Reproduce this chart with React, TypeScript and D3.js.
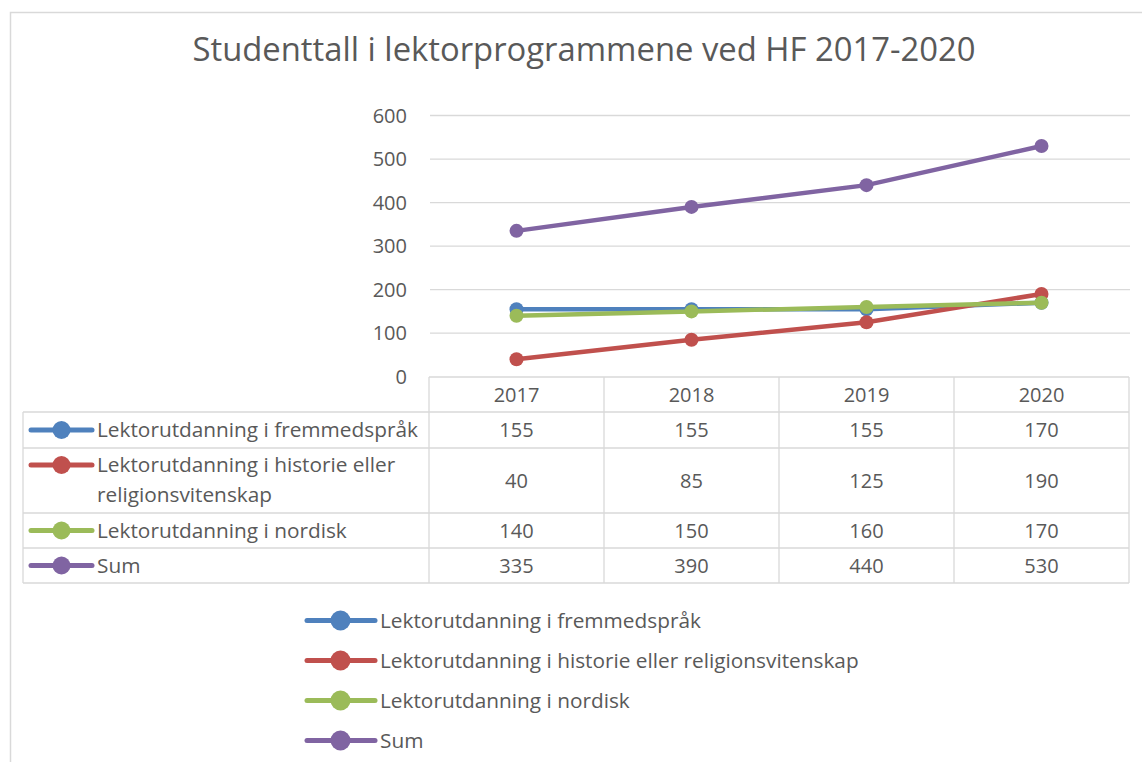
import React from "react";
import * as d3 from "d3";

const years = ["2017", "2018", "2019", "2020"];
const seriesNames = [
  "Lektorutdanning i fremmedspråk",
  "Lektorutdanning i historie eller religionsvitenskap",
  "Lektorutdanning i nordisk",
  "Sum",
];
const tableLabels = [
  ["Lektorutdanning i fremmedspråk"],
  ["Lektorutdanning i historie eller", "religionsvitenskap"],
  ["Lektorutdanning i nordisk"],
  ["Sum"],
];
const fremmedsprak = [155, 155, 155, 170];
const historie = [40, 85, 125, 190];
const nordisk = [140, 150, 160, 170];
const sum = [335, 390, 440, 530];
const seriesValues = [fremmedsprak, historie, nordisk, sum];
const colors = ["#4F81BD", "#C0504D", "#9BBB59", "#8064A2"];
const yTicks = [0, 100, 200, 300, 400, 500, 600];
const title = "Studenttall i lektorprogrammene ved HF 2017-2020";

const FONT = "'Open Sans', sans-serif";
const TXT = "#595959";
const GRID = "#d9d9d9";
const LABEL_SIZE = 20.8;
const NUM_SIZE = 20;

export default function App() {
  const x = d3.scaleBand<string>().domain(years).range([429, 1129]);
  const y = d3.scaleLinear().domain([0, 600]).range([376.7, 115.5]);
  const cx = (yr: string) => (x(yr) as number) + x.bandwidth() / 2;
  const line = d3
    .line<number>()
    .x((_, i) => cx(years[i]))
    .y((v) => y(v));

  const rowBounds = [412, 448, 513, 548, 583];
  const tableLeft = 23;
  const tableRight = 1129;

  return (
    <svg
      width={1142}
      height={762}
      style={{ position: "absolute", left: 0, top: 0, background: "#fff" }}
    >
      <rect x={0} y={0} width={1142} height={762} fill="#fff" />
      <path d="M10.5,770 V12.5 H1150" fill="none" stroke={GRID} strokeWidth={1.5} />
      <text
        x={584}
        y={61}
        textAnchor="middle"
        fontFamily={FONT}
        fontSize={32.8}
        fill={TXT}
      >
        {title}
      </text>
      {yTicks.map((t) => (
        <g key={t}>
          {t > 0 && (
            <line x1={430} x2={1130} y1={y(t)} y2={y(t)} stroke={GRID} strokeWidth={1.3} />
          )}
          <text
            x={407}
            y={y(t)}
            dy="0.35em"
            textAnchor="end"
            fontFamily={FONT}
            fontSize={NUM_SIZE}
            fill={TXT}
          >
            {t}
          </text>
        </g>
      ))}
      <g stroke={GRID} strokeWidth={1.3} fill="none">
        <line x1={429} x2={tableRight} y1={377} y2={377} />
        {rowBounds.map((b, i) => (
          <line key={i} x1={tableLeft} x2={tableRight} y1={b} y2={b} />
        ))}
        <line x1={tableLeft} x2={tableLeft} y1={412} y2={583} />
        {years.map((yr) => (
          <line key={yr} x1={x(yr)} x2={x(yr)} y1={377} y2={583} />
        ))}
        <line x1={tableRight} x2={tableRight} y1={377} y2={583} />
      </g>
      {years.map((yr) => (
        <text
          key={yr}
          x={cx(yr)}
          y={394.5}
          dy="0.35em"
          textAnchor="middle"
          fontFamily={FONT}
          fontSize={NUM_SIZE}
          fill={TXT}
        >
          {yr}
        </text>
      ))}
      {seriesValues.map((vals, si) => {
        const top = rowBounds[si];
        const bottom = rowBounds[si + 1];
        const mid = (top + bottom) / 2;
        const lines = tableLabels[si];
        const firstY = lines.length > 1 ? top + 17 : mid;
        return (
          <g key={si}>
            {vals.map((v, i) => (
              <text
                key={i}
                x={cx(years[i])}
                y={mid}
                dy="0.35em"
                textAnchor="middle"
                fontFamily={FONT}
                fontSize={NUM_SIZE}
                fill={TXT}
              >
                {v}
              </text>
            ))}
            <line
              x1={31}
              x2={92}
              y1={firstY}
              y2={firstY}
              stroke={colors[si]}
              strokeWidth={5}
              strokeLinecap="round"
            />
            <circle cx={61.5} cy={firstY} r={9} fill={colors[si]} />
            {lines.map((l, li) => (
              <text
                key={li}
                x={97}
                y={firstY + li * 30}
                dy="0.35em"
                fontFamily={FONT}
                fontSize={LABEL_SIZE}
                fill={TXT}
              >
                {l}
              </text>
            ))}
          </g>
        );
      })}
      {seriesValues.map((vals, si) => (
        <g key={si}>
          <path
            d={line(vals) as string}
            fill="none"
            stroke={colors[si]}
            strokeWidth={4.5}
            strokeLinecap="round"
          />
          {vals.map((v, i) => (
            <circle key={i} cx={cx(years[i])} cy={y(v)} r={7} fill={colors[si]} />
          ))}
        </g>
      ))}
      {seriesNames.map((n, i) => {
        const ly = 620.5 + i * 40;
        return (
          <g key={n}>
            <line
              x1={307}
              x2={375}
              y1={ly}
              y2={ly}
              stroke={colors[i]}
              strokeWidth={5}
              strokeLinecap="round"
            />
            <circle cx={340.5} cy={ly} r={10} fill={colors[i]} />
            <text
              x={380}
              y={ly}
              dy="0.35em"
              fontFamily={FONT}
              fontSize={LABEL_SIZE}
              fill={TXT}
            >
              {n}
            </text>
          </g>
        );
      })}
    </svg>
  );
}
